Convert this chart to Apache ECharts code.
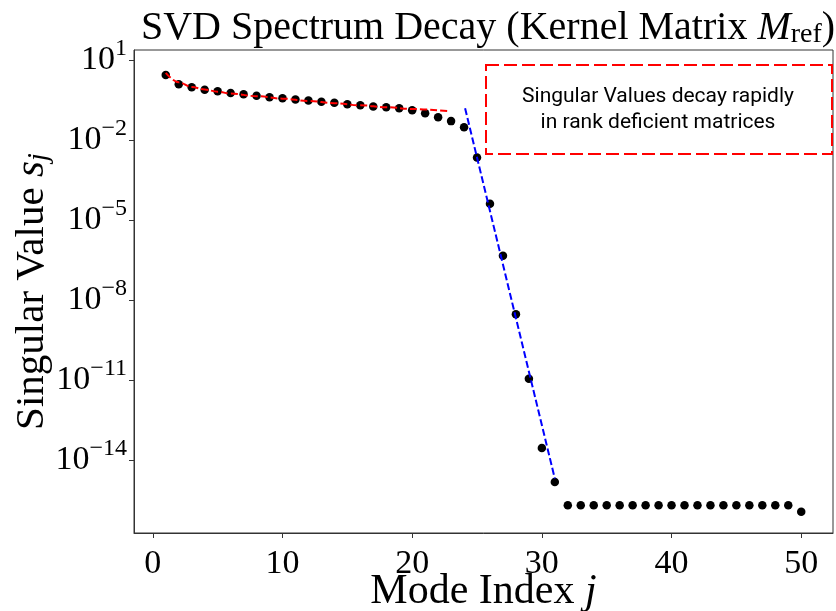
<!DOCTYPE html>
<html><head><meta charset="utf-8">
<script src="https://cdn.jsdelivr.net/npm/echarts@6/dist/echarts.min.js"></script>
<style>html,body{margin:0;padding:0;background:#fff}#c{width:836px;height:611px}</style>
</head><body><div id="c"></div>
<script>
// ---- data ----
const modeIndex = [1,2,3,4,5,6,7,8,9,10,11,12,13,14,15,16,17,18,19,20,21,22,23,24,25,26,27,28,29,30,31,32,33,34,35,36,37,38,39,40,41,42,43,44,45,46,47,48,49,50];
const singularValues = [2.74,1.23,0.95,0.77,0.67,0.58,0.52,0.46,0.40,0.37,0.33,0.30,0.27,0.25,0.22,0.20,0.18,0.17,0.155,0.13,0.10,0.071,0.051,0.030,
  2.2e-3,4.1e-5,4.6e-7,2.9e-9,1.1e-11,2.8e-14,1.5e-15,
  2.0e-16,2.0e-16,2.0e-16,2.0e-16,2.0e-16,2.0e-16,2.0e-16,2.0e-16,2.0e-16,2.0e-16,2.0e-16,2.0e-16,2.0e-16,2.0e-16,2.0e-16,2.0e-16,2.0e-16,2.0e-16,1.15e-16];
const slowFitX = [1,2,3,4,5,6,8,10,12,14,16,18,20,22.9];
const slowFitY = [3.31,1.45,0.98,0.78,0.65,0.55,0.44,0.355,0.29,0.24,0.20,0.17,0.145,0.12];
const fastFitX = [24.08,31.0];
const fastFitY = [0.155,2.0e-15];
const xTickValues = [0,10,20,30,40,50];
const yTickExponents = [1,-2,-5,-8,-11,-14];
const annotationLines = ['Singular Values decay rapidly','in rank deficient matrices'];

const serif = '"Liberation Serif", "DejaVu Serif", serif';
// the y scale is logarithmic: values are placed on a value axis by their base-10 logarithm
const lg = v => Math.log10(v);
const pairs = (xs, ys) => xs.map((x, i) => [x, lg(ys[i])]);

const chart = echarts.init(document.getElementById('c'), null, {renderer: 'canvas'});
chart.setOption({
  animation: false,
  backgroundColor: '#fff',
  title: {
    text: 'SVD Spectrum Decay (Kernel Matrix {it|M}{sub|ref})',
    left: 483, top: 2, textAlign: 'center',
    textStyle: {
      fontFamily: serif, fontSize: 40, fontWeight: 'normal', color: '#000',
      rich: {
        it: {fontFamily: serif, fontSize: 40, fontStyle: 'italic', color: '#000'},
        sub: {fontFamily: serif, fontSize: 28, color: '#000', padding: [14, 0, 0, 0]}
      }
    }
  },
  grid: {left: 134, right: 3, top: 50, bottom: 78, show: true, borderColor: '#333', borderWidth: 1,
         containLabel: false, outerBoundsMode: 'none'},
  xAxis: {
    type: 'value', min: -1.45, max: 52.45,
    name: 'Mode Index {it|j}', nameLocation: 'middle', nameGap: 38, nameMoveOverlap: false,
    nameTextStyle: {fontFamily: serif, fontSize: 42, color: '#000',
      rich: {it: {fontFamily: serif, fontSize: 42, fontStyle: 'italic', color: '#000'}}},
    splitLine: {show: false},
    axisLine: {show: true, onZero: false, lineStyle: {color: '#333', width: 1}},
    axisTick: {show: true, length: 5, inside: false, customValues: xTickValues, lineStyle: {color: '#333'}},
    axisLabel: {customValues: xTickValues, fontFamily: serif, fontSize: 34, color: '#000', margin: 14}
  },
  yAxis: {
    type: 'value', min: -16.74, max: 1.375,
    name: 'Singular Value {it|s}{sub|j}', nameLocation: 'middle', nameGap: 80, nameRotate: 90, nameMoveOverlap: false,
    nameTextStyle: {fontFamily: serif, fontSize: 41, color: '#000',
      rich: {
        it: {fontFamily: serif, fontSize: 41, fontStyle: 'italic', color: '#000'},
        sub: {fontFamily: serif, fontSize: 29, fontStyle: 'italic', color: '#000', padding: [14, 0, 0, 0]}
      }},
    splitLine: {show: false},
    axisLine: {show: true, onZero: false, lineStyle: {color: '#333', width: 1}},
    axisTick: {show: true, length: 5, customValues: yTickExponents, lineStyle: {color: '#333'}},
    axisLabel: {
      customValues: yTickExponents, margin: 7, fontFamily: serif, color: '#000',
      formatter: function (e) {
        e = Math.round(e);
        return '{b|10}{s|' + (e < 0 ? '\u2212' + (-e) : e) + '}';
      },
      rich: {
        b: {fontFamily: serif, fontSize: 34, color: '#000'},
        s: {fontFamily: serif, fontSize: 24, color: '#000', padding: [0, 0, 22, 0]}
      }
    }
  },
  series: [
    {type: 'scatter', data: pairs(modeIndex, singularValues), symbol: 'circle', symbolSize: 8.5,
     itemStyle: {color: '#000', opacity: 1}, z: 2},
    {type: 'line', data: pairs(slowFitX, slowFitY), showSymbol: false, smooth: 0.4, smoothMonotone: 'x',
     lineStyle: {color: '#ff0000', width: 2, type: [7, 3]}, z: 3},
    {type: 'line', data: pairs(fastFitX, fastFitY), showSymbol: false,
     lineStyle: {color: '#0000ff', width: 2, type: [7, 3]}, z: 3}
  ],
  graphic: [
    {type: 'rect', shape: {x: 486, y: 65, width: 346, height: 89}, z: 10,
     style: {fill: '#fff', stroke: '#ff0000', lineWidth: 2, lineDash: [13, 5]}},
    {type: 'text', x: 658, y: 109.5, z: 11,
     style: {text: annotationLines.join('\n'), fill: '#000', font: '21px Roboto, "Noto Sans", sans-serif',
       align: 'center', verticalAlign: 'middle', lineHeight: 26}}
  ]
});
</script></body></html>
